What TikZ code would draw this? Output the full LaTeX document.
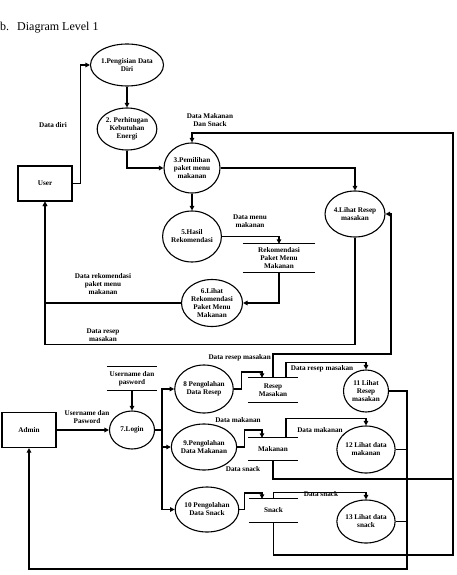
\documentclass[tikz,border=0pt]{standalone}
\usepackage{fontspec}
\setmainfont{Liberation Serif}
\usetikzlibrary{arrows.meta,shapes.geometric,calc}
\tikzset{
  lw/.style={line width=1.1pt},
  arr/.style={lw,-{Triangle[length=4.5pt,width=4.5pt]}},
  proc/.style={ellipse,draw,lw,inner sep=0pt,align=center,font=\fontsize{7.2}{8}\selectfont\bfseries},
  ent/.style={rectangle,draw,lw,inner sep=0pt,font=\fontsize{7.2}{8}\selectfont\bfseries},
  store/.style={inner sep=0pt,align=center,font=\fontsize{7.2}{8}\selectfont\bfseries},
  lbl/.style={inner sep=0pt,align=center,font=\fontsize{7.2}{8}\selectfont\bfseries},
}
\begin{document}
\begin{tikzpicture}[x=1pt,y=-1pt]
\useasboundingbox (0,0) rectangle (456,575);
\node[anchor=west,inner sep=0pt,font=\fontsize{12}{14}\selectfont] (title) at (0,28) {b.\hspace{8pt}Diagram Level 1};

% entities
\node[ent,minimum width=54pt,minimum height=35pt] (user) at (45,183.5) {User};
\node[ent,minimum width=54pt,minimum height=35pt] (admin) at (29,430) {Admin};

% processes
\node[proc,minimum width=56pt,minimum height=42pt] (c1) at (127,65) {1.Pengisian Data\\Diri};
\node[proc,minimum width=55pt,minimum height=42pt] (c2) at (127,129) {2. Perhitugan\\Kebutuhan\\Energi};
\node[proc,minimum width=56pt,minimum height=50pt] (c3) at (192,168) {3.Pemilihan\\paket menu\\makanan};
\node[proc,minimum width=50pt,minimum height=46pt] (c4) at (355,214) {4.Lihat Resep\\masakan};
\node[proc,minimum width=55pt,minimum height=51pt] (c5) at (192,236.5) {5.Hasil\\Rekomendasi};
\node[proc,minimum width=61pt,minimum height=47pt] (c6) at (212,303) {6.Lihat\\Rekomendasi\\Paket Menu\\Makanan};
\node[proc,minimum width=45pt,minimum height=38pt] (c7) at (132,430) {7.Login};
\node[proc,minimum width=52pt,minimum height=48pt] (c8) at (204,389) {8 Pengolahan\\Data Resep};
\node[proc,minimum width=54pt,minimum height=46pt] (c9) at (204,447) {9.Pengolahan\\Data Makanan};
\node[proc,minimum width=52pt,minimum height=45pt] (c10) at (207,509.5) {10 Pengolahan\\Data Snack};
\node[proc,minimum width=45pt,minimum height=42pt] (c11) at (366,391) {11 Lihat\\Resep\\masakan};
\node[proc,minimum width=54pt,minimum height=47pt] (c12) at (366,449.5) {12 Lihat data\\makanan};
\node[proc,minimum width=48pt,minimum height=43pt] (c13) at (366,521.5) {13 Lihat data\\snack};

% data stores
\node[store,minimum width=50pt,minimum height=23pt] (s0) at (132,378.5) {Username dan\\pasword};
\node[store,minimum width=72pt,minimum height=28pt] (sR) at (279,258) {Rekomendasi\\Paket Menu\\Makanan};
\node[store,minimum width=50pt,minimum height=24pt] (sRes) at (273,390) {Resep\\Masakan};
\node[store,minimum width=50pt,minimum height=22pt] (sMak) at (273,449) {Makanan};
\node[store,minimum width=49pt,minimum height=23pt] (sSn) at (273.5,510.5) {Snack};
\foreach \s in {s0,sR,sRes,sMak,sSn}{
  \draw[lw] (\s.north west) -- (\s.north east) (\s.south west) -- (\s.south east);
}

% helper coordinates
\coordinate (k4) at (391,354);
\coordinate (k3a) at (453,555);
\coordinate (k3b) at (453,133);
\coordinate (k5) at (453,479);
\coordinate (k6) at (407,569);
\coordinate (k7) at (162,430);
\coordinate (r1) at (262,372);
\coordinate (r2) at (262,430);
\coordinate (r3) at (262,493);

% upper flows
\draw[arr] (user.east) -- ++(8,0) |- (c1.west);
\draw[arr] (c1.south) -- (c2.north);
\draw[arr] (c2.south) |- (c3.west);
\draw[arr] (c3.east) -| (c4.north);
\draw[arr] (c3.south) -- (c5.north);
\draw[arr] (c5.east) -| (sR.north);
\draw[arr] (sR.south) |- (c6.east);
\draw[arr] (c6.west) -| (user.south);
\draw[arr] (c4.south) -- ++(0,107) -| (user.south);
\draw[arr] (sRes.north) |- (k4) |- (c4.east);
\draw[arr] (sSn.south) |- (k3a) -- (k3b) -| (c3.north);
\draw[lw] (sMak.south) |- (k5);

% lower flows
\draw[arr] (admin.east) -- (c7.west);
\draw[arr] (s0.south) -- (c7.north);
\draw[lw] (c7.east) -- (k7);
\draw[arr] (k7) |- (c8.west);
\draw[arr] (k7) |- (c9.west);
\draw[arr] (k7) |- (c10.west);
\draw[arr] (c8.east) -- ++(8,0) |- (r1) -- (r1 |- sRes.north);
\draw[arr] (c9.east) -- ++(7,0) |- (r2) -- (r2 |- sMak.north);
\draw[arr] (c10.east) -- ++(5,0) |- (r3) -- (r3 |- sSn.north);
\draw[arr] ([xshift=13pt]sRes.north) |- ($(c11.north)+(0,-7)$) -- (c11.north);
\draw[arr] ([xshift=13pt]sMak.north) |- ($(c12.north)+(0,-7)$) -- (c12.north);
\draw[arr] (sSn.north) |- ($(c13.north)+(0,-7)$) -- (c13.north);
\draw[arr] (c11.east) -| (k6) -| (admin.south);
\draw[lw] (c12.east) -- (c12.east -| k6);
\draw[line width=0.6pt] (c13.east) -- (c13.east -| k6);

% labels
\node[lbl] (l1) at (53,125) {Data diri};
\node[lbl] (l2) at (210,120) {Data Makanan\\Dan Snack};
\node[lbl] (l3) at (250,221) {Data menu\\makanan};
\node[lbl] (l4) at (103,284) {Data rekomendasi\\paket menu\\makanan};
\node[lbl] (l5) at (103,335) {Data resep\\masakan};
\node[lbl,anchor=east] (l6) at (271,358) {Data resep masakan};
\node[lbl] (l7) at (322,369) {Data resep masakan};
\node[lbl] (l8) at (87,417) {Username dan\\Pasword};
\node[lbl] (l9) at (238,420) {Data makanan};
\node[lbl] (l10) at (320,430) {Data makanan};
\node[lbl] (l11) at (243,469) {Data snack};
\node[lbl] (l12) at (321,494) {Data snack};
\end{tikzpicture}
\end{document}
